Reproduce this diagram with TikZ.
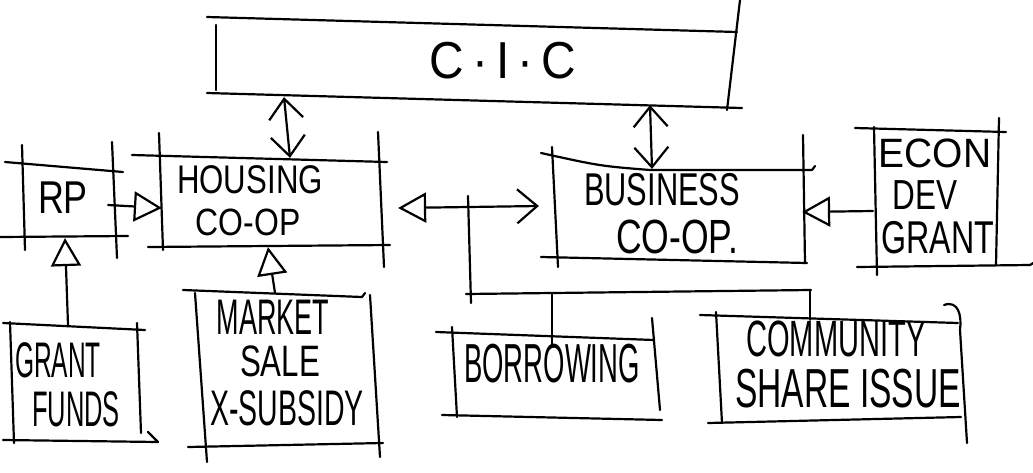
\documentclass[tikz,border=0pt]{standalone}
\usepackage{fontspec}
\setmainfont{Liberation Sans}
\usepackage{graphicx}
\usetikzlibrary{arrows.meta}
\newcommand\hwt[3]{\fontsize{#1}{#1}\selectfont\scalebox{#2}[1]{#3}}
\tikzset{
  pen/.style={line width=2.2pt, line cap=round, line join=round},
  zone/.style n args={2}{minimum width=#1pt, minimum height=#2pt, inner sep=0pt, draw=none},
  txt/.style={inner sep=0pt, text=black},
  tri/.tip={Triangle[open,length=28pt,width=30pt]},
  barb/.tip={Straight Barb[length=20pt,width=34pt]},
}
\begin{document}
\begin{tikzpicture}[x=1pt,y=-1pt,pen]
\useasboundingbox (0,0) rectangle (1033,472);
\fill[white] (0,0) rectangle (1033,472);
% invisible zones of the boxes
\node[zone={519}{78}]  (cic)    at (475.5,61)  {};
\node[zone={94}{70}]   (rp)     at (69,202)    {};
\node[zone={220}{88}]  (hc)     at (270,202)   {};
\node[zone={247}{92}]  (bc)     at (679.5,214) {};
\node[zone={125}{136}] (econ)   at (936.5,198) {};
\node[zone={130}{115}] (grant)  at (75,383.5)  {};
\node[zone={175}{151}] (market) at (287.5,369.5) {};
\node[zone={202}{81}]  (borrow) at (556,376.5) {};
\node[zone={238}{101}] (comm)   at (839,369.5) {};
% sketched outlines
% CIC
\draw (207,17) -- (737,32);
\draw (216,25) -- (216,90);
\draw (207,93) -- (742,108);
\draw (740,0) -- (727,110);
% RP
\draw (5,162) -- (123,172);
\draw (22,145) -- (25,250);
\draw (112,142) -- (117,258);
\draw (0,237) -- (128,236);
% Housing
\draw (132,155) -- (387,162);
\draw (159,133) -- (163,250);
\draw (378,132) -- (384,267);
\draw (148,247) -- (390,245);
% Business
\draw (541,153) .. controls (600,166) .. (650,170) -- (812,170) -- (815,166);
\draw (552,147) -- (558,267);
\draw (803,135) -- (805,263);
\draw (541,257) -- (807,263);
% Econ
\draw (855,128) -- (1006,132);
\draw (874,127) -- (877,275);
\draw (999,118) -- (996,265);
\draw (857,267) -- (1030,265) -- (1035,262);
% Grant funds
\draw (3,323) -- (145,330);
\draw (10,322) -- (14,443);
\draw (137,323) -- (141,433);
\draw (3,440) -- (158,442) -- (148,432);
% Market sale
\draw (183,290) -- (362,297) -- (365,293);
\draw (195,293) -- (207,462);
\draw (370,295) -- (380,457);
\draw (188,447) -- (383,443);
% Borrowing
\draw (436,332) -- (654,340);
\draw (452,327) -- (457,417);
\draw (652,318) -- (660,410);
\draw (442,415) -- (662,420);
% Community share issue
\draw (700,315) -- (958,323);
\draw (716,312) -- (722,423);
\draw (944,305) .. controls (958,300) and (962,315) .. (960,330) -- (967,443);
\draw (708,423) -- (961,417);
% texts
\node[txt] (tcic)  at (503,61)  {\hwt{52}{0.92}{C\,·\,I\,·\,C}};
\node[txt] (trp)   at (63,198)  {\hwt{46}{0.78}{RP}};
\node[txt] (thc1)  at (250,180) {\hwt{40}{0.78}{HOUSING}};
\node[txt] (thc2)  at (248,222) {\hwt{38}{0.84}{CO-OP}};
\node[txt] (tbc1)  at (662,190) {\hwt{46}{0.67}{BUSINESS}};
\node[txt] (tbc2)  at (677,237) {\hwt{48}{0.74}{CO-OP.}};
\node[txt] (tec1)  at (935,153) {\hwt{41}{0.95}{ECON}};
\node[txt] (tec2)  at (925,195) {\hwt{42}{0.75}{DEV}};
\node[txt] (tec3)  at (938,238) {\hwt{46}{0.70}{GRANT}};
\node[txt] (tbor)  at (552,364) {\hwt{55}{0.50}{BORROWING}};
\node[txt] (tcom1) at (836,339) {\hwt{51}{0.57}{COMMUNITY}};
\node[txt] (tcom2) at (848,389) {\hwt{55}{0.61}{SHARE ISSUE}};
\node[txt] (tms1)  at (273,317) {\hwt{50}{0.54}{MARKET}};
\node[txt] (tms2)  at (280,361) {\hwt{44}{0.71}{SALE}};
\node[txt] (tms3)  at (287,408) {\hwt{50}{0.57}{X-SUBSIDY}};
\node[txt] (tgf1)  at (58,360)  {\hwt{50}{0.49}{GRANT}};
\node[txt] (tgf2)  at (76,409)  {\hwt{50}{0.51}{FUNDS}};
% connectors
\draw[barb-barb] ([shift={(-191.5,-4)}]cic.south) -- ([shift={(20,1)}]hc.north);
\draw[barb-barb] ([shift={(174.5,4)}]cic.south) -- ([shift={(-27.5,2)}]bc.north);
\draw[-tri] ([shift={(-9,3)}]rp.east) -- ([shift={(3,6)}]hc.west);
\draw[-tri] ([shift={(-7,0)}]grant.north) -- ([shift={(-4,0)}]rp.south);
\draw[-tri] ([shift={(-12.5,0)}]market.north) -- ([shift={(-2,0)}]hc.south);
\draw[tri-barb] ([shift={(17,6)}]hc.east) -- ([shift={(-16,-8)}]bc.west);
\draw[-tri] ([shift={(0,13)}]econ.west) -- ([shift={(-2,-2)}]bc.east);
% funding tree
\coordinate (jt) at (468,196);
\coordinate (jb) at (471,303);
\coordinate (jl) at (466,294);
\coordinate (jr) at (811,290);
\draw (jt) -- (jb);
\draw (jl) -- (jr);
\draw ([xshift=-4pt]borrow.north |- jl) -- ([shift={(-4,12)}]borrow.north);
\draw ([xshift=-29pt]comm.north |- jr) -- ([shift={(-29,2)}]comm.north);
\end{tikzpicture}
\end{document}
